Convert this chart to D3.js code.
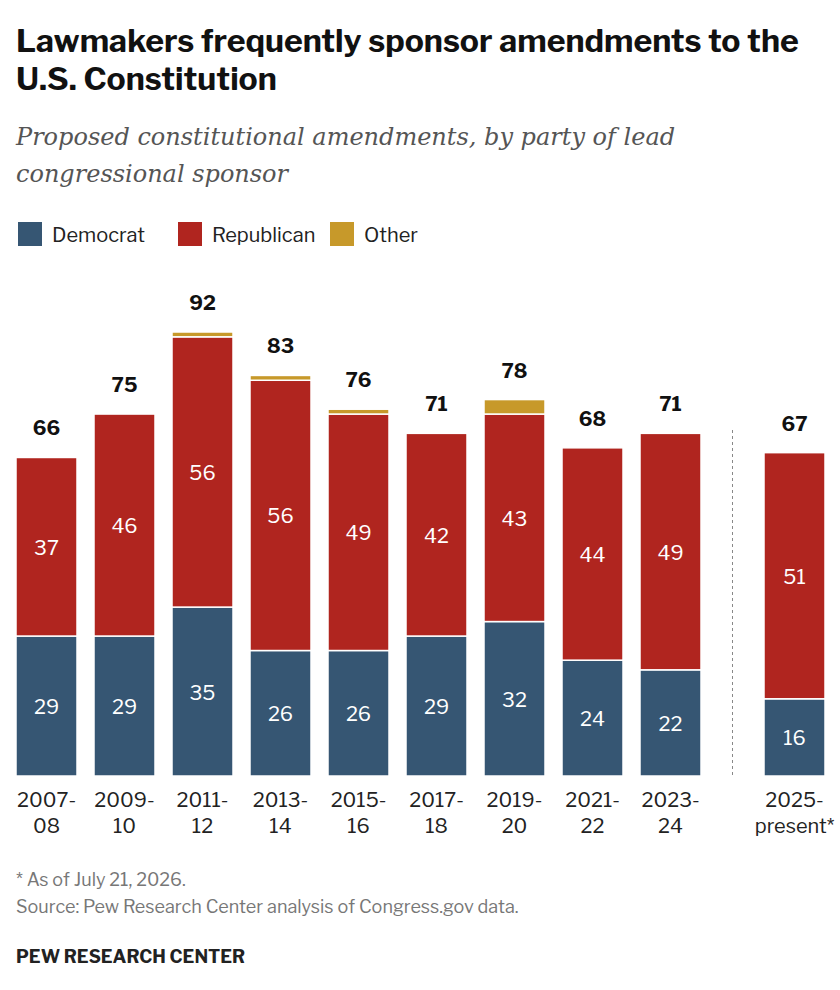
<!DOCTYPE html>
<html>
<head>
<meta charset="utf-8">
<script src="https://cdn.jsdelivr.net/npm/d3@7"></script>
<style>
body { margin: 0; background: #fff; }
text { font-family: "Franklin Gothic", "Libre Franklin", Roboto, "Noto Sans", sans-serif; }
</style>
</head>
<body>
<script>
const width = 840
const height = 990

const periods = ["2007-08", "2009-10", "2011-12", "2013-14", "2015-16", "2017-18", "2019-20", "2021-22", "2023-24", "2025-present*"]
const democrat = [29, 29, 35, 26, 26, 29, 32, 24, 22, 16]
const republican = [37, 46, 56, 56, 49, 42, 43, 44, 49, 51]
const other = [0, 0, 1, 1, 1, 0, 3, 0, 0, 0]
const totals = [66, 75, 92, 83, 76, 71, 78, 68, 71, 67]

const parties = ["Democrat", "Republican", "Other"]
const colors = {Democrat: "#365673", Republican: "#b0251f", Other: "#c7992a"}

const data = periods.map((p, i) => ({period: p, Democrat: democrat[i], Republican: republican[i], Other: other[i], total: totals[i]}))
const series = d3.stack().keys(parties)(data)

const gap = 46
const x = d3.scaleBand()
    .domain(periods)
    .range([16, 16 + 78 * 10 - 17])
    .paddingInner(17 / 78)
    .paddingOuter(0)
const xPos = d => x(d) + (d === periods[9] ? gap : 0)

const y = d3.scaleLinear().domain([0, 92]).range([776, 332])

const svg = d3.select("body").append("svg")
    .attr("width", width)
    .attr("height", height)

// title
svg.append("text").attr("x", 16).attr("y", 52)
    .attr("font-size", 32).attr("font-weight", 700).attr("fill", "#111")
    .text("Lawmakers frequently sponsor amendments to the")
svg.append("text").attr("x", 16).attr("y", 90)
    .attr("font-size", 32).attr("font-weight", 700).attr("fill", "#111")
    .text("U.S. Constitution")

const sub = ["Proposed constitutional amendments, by party of lead", "congressional sponsor"]
svg.selectAll(".sub").data(sub).join("text")
    .attr("x", 16).attr("y", (d, i) => 145 + i * 37)
    .style("font-family", "'DejaVu Serif', serif")
    .attr("font-style", "italic").attr("font-size", 24).attr("fill", "#555")
    .text(d => d)

// legend
const legX = [18, 178, 330]
const leg = svg.selectAll(".leg").data(parties).join("g")
    .attr("transform", (d, i) => `translate(${legX[i]},222)`)
leg.append("rect").attr("width", 24).attr("height", 24).attr("fill", d => colors[d])
leg.append("text").attr("x", 34).attr("y", 20).attr("font-size", 20).attr("fill", "#222").text(d => d)

// bars
svg.append("g").selectAll("g").data(series).join("g")
    .attr("fill", s => colors[s.key])
    .selectAll("rect").data(s => s.filter(d => d[1] > d[0]))
    .join("rect")
    .attr("x", d => xPos(d.data.period))
    .attr("width", x.bandwidth())
    .attr("y", d => y(d[1]))
    .attr("height", d => y(d[0]) - y(d[1]))
    .attr("stroke", "#fff").attr("stroke-width", 1.5)

// segment labels
series.filter(s => s.key !== "Other").forEach(s => {
    svg.append("g").selectAll("text").data(s).join("text")
        .attr("x", d => xPos(d.data.period) + x.bandwidth() / 2)
        .attr("y", d => (y(d[0]) + y(d[1])) / 2 + 8)
        .attr("text-anchor", "middle").attr("font-size", 20).attr("fill", "#fff")
        .text(d => d[1] - d[0])
})

// totals
svg.append("g").selectAll("text").data(data).join("text")
    .attr("x", d => xPos(d.period) + x.bandwidth() / 2)
    .attr("y", d => y(d.total) - 22)
    .attr("text-anchor", "middle").attr("font-size", 20).attr("font-weight", 700).attr("fill", "#111")
    .text(d => d.total)

// divider
const divX = (xPos(periods[8]) + x.bandwidth() + xPos(periods[9])) / 2
svg.append("line").attr("x1", divX).attr("x2", divX).attr("y1", 430).attr("y2", 776)
    .attr("stroke", "#888").attr("stroke-dasharray", "3,3")

// x axis labels
svg.append("g").selectAll("text").data(periods).join("text")
    .attr("y", 807)
    .attr("text-anchor", "middle").attr("font-size", 20).attr("fill", "#222")
    .each(function(d) {
        const cx = xPos(d) + x.bandwidth() / 2
        const parts = d.split("-")
        d3.select(this).append("tspan").attr("x", cx).text(parts[0] + "-")
        d3.select(this).append("tspan").attr("x", cx).attr("dy", 26).text(parts[1])
    })

// notes
svg.append("text").attr("x", 16).attr("y", 886).attr("font-size", 18).attr("fill", "#777").text("* As of July 21, 2026.")
svg.append("text").attr("x", 16).attr("y", 913).attr("font-size", 18).attr("fill", "#777").text("Source: Pew Research Center analysis of Congress.gov data.")
svg.append("text").attr("x", 16).attr("y", 963).attr("font-size", 18).attr("font-weight", 700).attr("fill", "#222").text("PEW RESEARCH CENTER")
</script>
</body>
</html>
